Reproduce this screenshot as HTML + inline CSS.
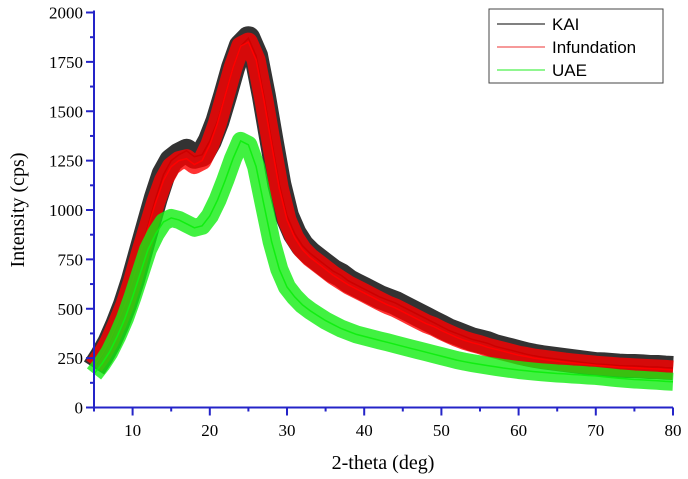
<!DOCTYPE html>
<html><head><meta charset="utf-8"><style>
body{margin:0;background:#fff}
svg text{font-family:"Liberation Serif",serif}
</style></head><body>
<svg id="chart" width="688" height="474" viewBox="0 0 688 474">
<g id="plot"></g>
<g id="axes"></g>
<text x="24" y="210" font-size="20" text-anchor="middle" transform="rotate(-90 24 210)">Intensity (cps)</text>
<text x="383" y="469" font-size="20" text-anchor="middle">2-theta (deg)</text>
<g>
<rect x="489" y="9" width="174" height="74" fill="#fff" stroke="#444" stroke-width="1"/>
<g><line x1="497" y1="24" x2="545" y2="24" stroke="#000"/><text x="552" y="30" font-size="17" style="font-family:'Liberation Sans',sans-serif">KAI</text></g>
<g><line x1="497" y1="47" x2="545" y2="47" stroke="#e33"/><text x="552" y="53" font-size="17" style="font-family:'Liberation Sans',sans-serif">Infundation</text></g>
<g><line x1="497" y1="70" x2="545" y2="70" stroke="#2e2"/><text x="552" y="76" font-size="17" style="font-family:'Liberation Sans',sans-serif">UAE</text></g>
</g>
</svg>
<script>
const xValues=[];for(let i=5;i<=80;i++)xValues.push(i);
const kaiValues=[200,260,330,420,520,640,780,920,1060,1180,1250,1280,1300,1270,1280,1350,1450,1580,1720,1830,1870,1780,1580,1350,1130,970,880,820,780,750,720,690,670,640,620,600,580,560,545,530,510,490,470,450,430,410,390,375,360,345,335,325,310,300,290,280,270,262,255,250,245,240,235,230,225,220,218,215,212,210,210,208,205,205,202,200];
const infValues=[210,265,335,425,520,640,780,910,1040,1150,1220,1250,1260,1230,1250,1330,1440,1580,1720,1830,1850,1760,1560,1330,1110,950,860,800,760,730,700,670,645,620,600,580,560,540,520,505,485,465,445,425,410,390,372,355,340,328,318,305,295,285,275,265,258,250,245,240,235,230,226,222,218,214,211,208,205,203,201,199,197,195,193,190];
const uaeValues=[170,220,280,360,450,560,680,800,880,940,960,950,930,910,920,970,1050,1150,1260,1350,1330,1220,1030,840,700,610,560,520,490,465,440,420,400,385,370,360,350,340,330,320,310,300,290,280,270,260,250,240,232,225,218,212,206,200,195,190,186,182,178,175,172,170,167,165,162,160,156,152,148,145,142,140,137,135,132,130];
const yTicks=[0,250,500,750,1000,1250,1500,1750,2000];
const xTicks=[10,20,30,40,50,60,70,80];
const NS='http://www.w3.org/2000/svg';
const X0=94,X1=673,Y0=407.5,Y1=12.5;
const sx=v=>X0+(v-5)/(80-5)*(X1-X0);
const sy=v=>Y0-(v/2000)*(Y0-Y1);
const plot=document.getElementById('plot'),axes=document.getElementById('axes');
function mk(tag,attrs,parent){const e=document.createElementNS(NS,tag);for(const k in attrs)e.setAttribute(k,attrs[k]);parent.appendChild(e);return e;}
function series(vals,color,w,name){
 const pts=vals.map((v,i)=>sx(xValues[i]).toFixed(1)+','+sy(v).toFixed(1)).join(' ');
 const g=mk('g',{},plot);
 
 
 mk('polyline',{points:pts,fill:'none',stroke:color,'stroke-width':w,'stroke-opacity':0.8,'stroke-linejoin':'round'},g);
 mk('polyline',{points:pts,fill:'none',stroke:color,'stroke-width':1.5},g);
}
series(kaiValues,'#000',24,'series-kai');
series(infValues,'#f00',19,'series-infundation');
series(uaeValues,'#1e1',18,'series-uae');
const ac='#2424c8';
mk('line',{x1:X0,y1:Y1-2,x2:X0,y2:Y0,stroke:ac,'stroke-width':2},axes);
mk('line',{x1:X0,y1:Y0,x2:X1,y2:Y0,stroke:ac,'stroke-width':2},axes);
yTicks.forEach((t,i)=>{
 const y=sy(t);
 mk('line',{x1:X0-8,y1:y,x2:X0,y2:y,stroke:ac,'stroke-width':2},axes);
 if(i<yTicks.length-1)mk('line',{x1:X0-4,y1:sy(t+125),x2:X0,y2:sy(t+125),stroke:ac,'stroke-width':2},axes);
 const tx=mk('text',{x:X0-11,y:y+6,'font-size':17,'text-anchor':'end'},axes);
 tx.textContent=t;
 
 
});
xTicks.forEach(t=>{
 const x=sx(t);
 mk('line',{x1:x,y1:Y0,x2:x,y2:Y0+8,stroke:ac,'stroke-width':2},axes);
 mk('line',{x1:sx(t-5),y1:Y0,x2:sx(t-5),y2:Y0+4,stroke:ac,'stroke-width':2},axes);
 const tx=mk('text',{x:x,y:436,'font-size':17,'text-anchor':'middle'},axes);
 tx.textContent=t;
 
 
});
</script>
</body></html>
